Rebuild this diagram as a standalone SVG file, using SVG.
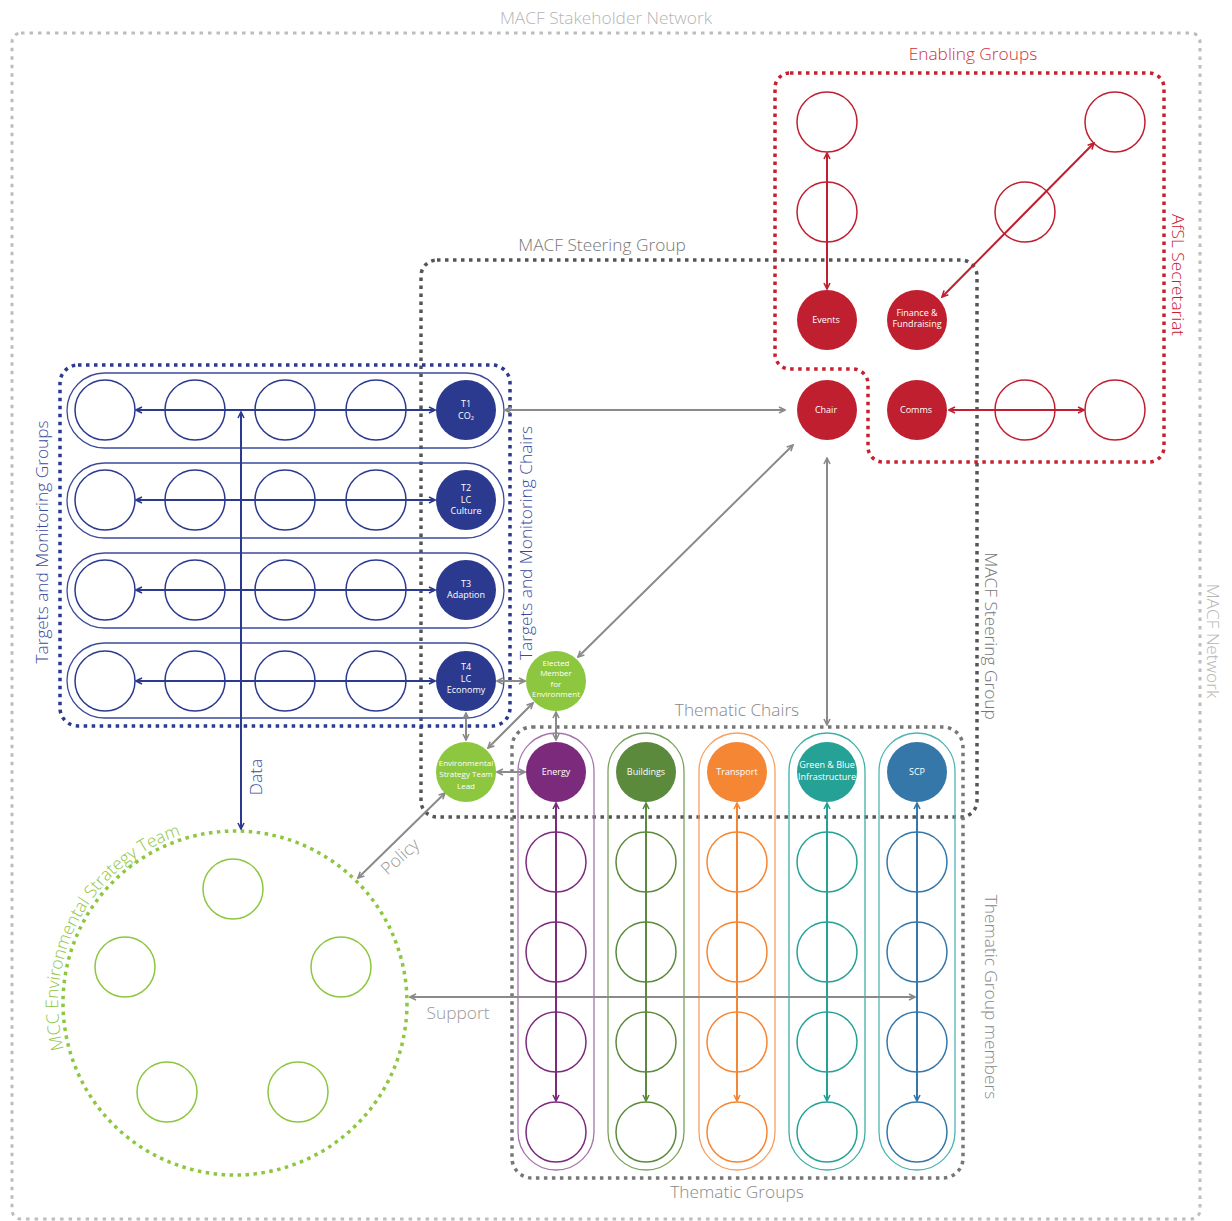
<svg xmlns="http://www.w3.org/2000/svg" width="1232" height="1221" viewBox="0 0 1232 1221">
<style>
text{font-family:"Open Sans","Liberation Sans",sans-serif;}
.lbl{font-size:17.3px;font-weight:300;}
.nt{font-size:9px;fill:#fff;text-anchor:middle;}
.ns{font-size:8px;fill:#fff;text-anchor:middle;}
.dot{fill:none;stroke-width:3.5;stroke-dasharray:3.5 4.5;}
.e{fill:none;stroke-width:1.5;}
.pill{fill:none;stroke-width:1.3;}
.cg{stroke:#8a8a8a;stroke-width:2;fill:none;marker-start:url(#ag);marker-end:url(#ag);}
.cr{stroke:#c01f2f;stroke-width:2;fill:none;marker-start:url(#ar);marker-end:url(#ar);}
.cb{stroke:#2b3a8f;stroke-width:2;fill:none;marker-start:url(#ab);marker-end:url(#ab);}
</style>
<defs>
<marker id="ag" viewBox="0 0 8 8" refX="7" refY="4" markerWidth="8" markerHeight="8" markerUnits="userSpaceOnUse" orient="auto-start-reverse"><path d="M1,1 L7,4 L1,7" fill="none" stroke="#8a8a8a" stroke-width="1.6"/></marker>
<marker id="ar" viewBox="0 0 8 8" refX="7" refY="4" markerWidth="8" markerHeight="8" markerUnits="userSpaceOnUse" orient="auto-start-reverse"><path d="M1,1 L7,4 L1,7" fill="none" stroke="#c01f2f" stroke-width="1.6"/></marker>
<marker id="ab" viewBox="0 0 8 8" refX="7" refY="4" markerWidth="8" markerHeight="8" markerUnits="userSpaceOnUse" orient="auto-start-reverse"><path d="M1,1 L7,4 L1,7" fill="none" stroke="#2b3a8f" stroke-width="1.6"/></marker>
<marker id="ap" viewBox="0 0 8 8" refX="7" refY="4" markerWidth="8" markerHeight="8" markerUnits="userSpaceOnUse" orient="auto-start-reverse"><path d="M1,1 L7,4 L1,7" fill="none" stroke="#7b2a7c" stroke-width="1.6"/></marker>
<marker id="agr" viewBox="0 0 8 8" refX="7" refY="4" markerWidth="8" markerHeight="8" markerUnits="userSpaceOnUse" orient="auto-start-reverse"><path d="M1,1 L7,4 L1,7" fill="none" stroke="#5b8a3c" stroke-width="1.6"/></marker>
<marker id="ao" viewBox="0 0 8 8" refX="7" refY="4" markerWidth="8" markerHeight="8" markerUnits="userSpaceOnUse" orient="auto-start-reverse"><path d="M1,1 L7,4 L1,7" fill="none" stroke="#f58634" stroke-width="1.6"/></marker>
<marker id="at" viewBox="0 0 8 8" refX="7" refY="4" markerWidth="8" markerHeight="8" markerUnits="userSpaceOnUse" orient="auto-start-reverse"><path d="M1,1 L7,4 L1,7" fill="none" stroke="#26a196" stroke-width="1.6"/></marker>
<marker id="as" viewBox="0 0 8 8" refX="7" refY="4" markerWidth="8" markerHeight="8" markerUnits="userSpaceOnUse" orient="auto-start-reverse"><path d="M1,1 L7,4 L1,7" fill="none" stroke="#3577a8" stroke-width="1.6"/></marker>
<path id="mccArc" d="M64,1049 A177,177 0 0 1 214,828"/>
</defs>
<rect width="1232" height="1221" fill="#fff"/>

<!-- containers -->
<g id="containers">
<g id="network">
<rect x="12" y="33" width="1188" height="1186" rx="9" fill="none" stroke="#bdbdbd" stroke-width="3" stroke-dasharray="3.5 5"/>
<text class="lbl" x="606" y="24" text-anchor="middle" fill="#b5b5b5">MACF Stakeholder Network</text>
<text class="lbl" transform="translate(1207,641) rotate(90)" text-anchor="middle" fill="#b5b5b5">MACF Network</text>
</g>
<g id="enabling">
<path class="dot" stroke="#c8202f" d="M790,73 H1149 A15,15 0 0 1 1164,88 V447 A15,15 0 0 1 1149,462 H883 A15,15 0 0 1 868,447 V384 A15,15 0 0 0 853,369 H790 A15,15 0 0 1 775,354 V88 A15,15 0 0 1 790,73 Z"/>
<text class="lbl" x="973" y="60" text-anchor="middle" fill="#d2303d">Enabling Groups</text>
<text class="lbl" transform="translate(1172,275) rotate(90)" text-anchor="middle" fill="#c8202f">AfSL Secretariat</text>
</g>
<g id="steering">
<rect class="dot" stroke="#555" x="421" y="260" width="556" height="557" rx="16"/>
<text class="lbl" x="602" y="251" text-anchor="middle" fill="#777">MACF Steering Group</text>
<text class="lbl" transform="translate(985,636) rotate(90)" text-anchor="middle" fill="#777">MACF Steering Group</text>
</g>
<g id="targets">
<rect class="dot" stroke="#2b3a8f" x="60" y="365" width="450" height="361" rx="18"/>
<text class="lbl" transform="translate(48,542) rotate(-90)" text-anchor="middle" fill="#3b4aa0">Targets and Monitoring Groups</text>
<text class="lbl" transform="translate(532,543) rotate(-90)" text-anchor="middle" fill="#3b4aa0">Targets and Monitoring Chairs</text>
</g>
<g id="thematic">
<rect class="dot" stroke="#777" x="512" y="727" width="451" height="451" rx="20"/>
<text class="lbl" x="737" y="716" text-anchor="middle" fill="#888">Thematic Chairs</text>
<text class="lbl" x="737" y="1198" text-anchor="middle" fill="#888">Thematic Groups</text>
<text class="lbl" transform="translate(985,997) rotate(90)" text-anchor="middle" fill="#888">Thematic Group members</text>
</g>
<g id="mcc">
<circle class="dot" stroke="#8dc63f" cx="235" cy="1003" r="172"/>
<text class="lbl" font-size="18.3" fill="#8dc63f"><textPath href="#mccArc">MCC Environmental Strategy Team</textPath></text>
</g>
</g>

<!-- pills -->
<g id="pills">
<rect class="pill" stroke="#3d4b9e" x="67" y="373" width="437" height="75" rx="37.5"/>
<rect class="pill" stroke="#3d4b9e" x="67" y="463" width="437" height="75" rx="37.5"/>
<rect class="pill" stroke="#3d4b9e" x="67" y="553" width="437" height="75" rx="37.5"/>
<rect class="pill" stroke="#3d4b9e" x="67" y="643" width="437" height="75" rx="37.5"/>
<rect class="pill" stroke="#a673ad" x="518" y="733" width="76" height="437" rx="38"/>
<rect class="pill" stroke="#7aa35a" x="608" y="733" width="76" height="437" rx="38"/>
<rect class="pill" stroke="#f7a060" x="699" y="733" width="76" height="437" rx="38"/>
<rect class="pill" stroke="#3fb0a5" x="789" y="733" width="76" height="437" rx="38"/>
<rect class="pill" stroke="#4fb5b0" x="879" y="733" width="76" height="437" rx="38"/>
</g>

<!-- connectors -->
<g id="connectors">
<line class="cr" x1="827" y1="153" x2="827" y2="289"/>
<line class="cr" x1="942" y1="297" x2="1094" y2="143"/>
<line class="cr" x1="949" y1="410" x2="1084" y2="410"/>
<line class="cb" x1="136" y1="410" x2="435" y2="410"/>
<line class="cb" x1="136" y1="500" x2="435" y2="500"/>
<line class="cb" x1="136" y1="590" x2="435" y2="590"/>
<line class="cb" x1="136" y1="681" x2="435" y2="681"/>
<line class="cb" x1="241" y1="412" x2="241" y2="829"/>
<text class="lbl" transform="translate(262,777) rotate(-90)" text-anchor="middle" fill="#3b4aa0">Data</text>
<line class="cg" x1="505" y1="410" x2="785" y2="410"/>
<line class="cg" x1="578" y1="657" x2="793" y2="445"/>
<line class="cg" x1="827" y1="458" x2="827" y2="725"/>
<line class="cg" x1="497" y1="681" x2="525" y2="681"/>
<line class="cg" x1="466" y1="713" x2="466" y2="740"/>
<line class="cg" x1="533" y1="703" x2="488" y2="748"/>
<line class="cg" x1="556" y1="712" x2="556" y2="740"/>
<line class="cg" x1="497" y1="772" x2="525" y2="772"/>
<line class="cg" x1="358" y1="878" x2="445" y2="793"/>
<text class="lbl" transform="translate(404,861) rotate(-42)" text-anchor="middle" fill="#999">Policy</text>
<line class="cg" x1="410" y1="997" x2="915" y2="997"/>
<text class="lbl" x="458" y="1019" text-anchor="middle" fill="#999">Support</text>
<line stroke="#7b2a7c" stroke-width="2" marker-start="url(#ap)" marker-end="url(#ap)" x1="556" y1="803" x2="556" y2="1101"/>
<line stroke="#5b8a3c" stroke-width="2" marker-start="url(#agr)" marker-end="url(#agr)" x1="646" y1="803" x2="646" y2="1101"/>
<line stroke="#f58634" stroke-width="2" marker-start="url(#ao)" marker-end="url(#ao)" x1="737" y1="803" x2="737" y2="1101"/>
<line stroke="#26a196" stroke-width="2" marker-start="url(#at)" marker-end="url(#at)" x1="827" y1="803" x2="827" y2="1101"/>
<line stroke="#3577a8" stroke-width="2" marker-start="url(#as)" marker-end="url(#as)" x1="917" y1="803" x2="917" y2="1101"/>
</g>

<!-- red nodes -->
<g id="eg-1"><circle class="e" stroke="#c01f2f" cx="827" cy="122" r="30"/></g>
<g id="eg-2"><circle class="e" stroke="#c01f2f" cx="827" cy="212" r="30"/></g>
<g id="eg-3"><circle class="e" stroke="#c01f2f" cx="1025" cy="212" r="30"/></g>
<g id="eg-4"><circle class="e" stroke="#c01f2f" cx="1115" cy="122" r="30"/></g>
<g id="eg-5"><circle class="e" stroke="#c01f2f" cx="1025" cy="410" r="30"/></g>
<g id="eg-6"><circle class="e" stroke="#c01f2f" cx="1115" cy="410" r="30"/></g>
<g id="events"><circle fill="#c01f2f" cx="827" cy="320" r="30"/><text class="nt" x="826" y="323">Events</text></g>
<g id="finance"><circle fill="#c01f2f" cx="917" cy="320" r="30"/><text class="nt" x="917" y="316">Finance &amp;</text><text class="nt" x="917" y="327">Fundraising</text></g>
<g id="chair"><circle fill="#c01f2f" cx="827" cy="410" r="30"/><text class="nt" x="826" y="413">Chair</text></g>
<g id="comms"><circle fill="#c01f2f" cx="917" cy="410" r="30"/><text class="nt" x="916" y="413">Comms</text></g>

<!-- blue rows -->
<g id="t1-members"><circle class="e" stroke="#2b3a8f" cx="105" cy="410" r="30"/><circle class="e" stroke="#2b3a8f" cx="195" cy="410" r="30"/><circle class="e" stroke="#2b3a8f" cx="285" cy="410" r="30"/><circle class="e" stroke="#2b3a8f" cx="376" cy="410" r="30"/></g>
<g id="t2-members"><circle class="e" stroke="#2b3a8f" cx="105" cy="500" r="30"/><circle class="e" stroke="#2b3a8f" cx="195" cy="500" r="30"/><circle class="e" stroke="#2b3a8f" cx="285" cy="500" r="30"/><circle class="e" stroke="#2b3a8f" cx="376" cy="500" r="30"/></g>
<g id="t3-members"><circle class="e" stroke="#2b3a8f" cx="105" cy="590" r="30"/><circle class="e" stroke="#2b3a8f" cx="195" cy="590" r="30"/><circle class="e" stroke="#2b3a8f" cx="285" cy="590" r="30"/><circle class="e" stroke="#2b3a8f" cx="376" cy="590" r="30"/></g>
<g id="t4-members"><circle class="e" stroke="#2b3a8f" cx="105" cy="681" r="30"/><circle class="e" stroke="#2b3a8f" cx="195" cy="681" r="30"/><circle class="e" stroke="#2b3a8f" cx="285" cy="681" r="30"/><circle class="e" stroke="#2b3a8f" cx="376" cy="681" r="30"/></g>
<g id="t1"><circle fill="#2b3a8f" cx="466" cy="410" r="30"/><text class="nt" x="466" y="407">T1</text><text class="nt" x="466" y="419">CO₂</text></g>
<g id="t2"><circle fill="#2b3a8f" cx="466" cy="500" r="30"/><text class="nt" x="466" y="491">T2</text><text class="nt" x="466" y="503">LC</text><text class="nt" x="466" y="514">Culture</text></g>
<g id="t3"><circle fill="#2b3a8f" cx="466" cy="590" r="30"/><text class="nt" x="466" y="587">T3</text><text class="nt" x="466" y="598">Adaption</text></g>
<g id="t4"><circle fill="#2b3a8f" cx="466" cy="681" r="30"/><text class="nt" x="466" y="670">T4</text><text class="nt" x="466" y="682">LC</text><text class="nt" x="466" y="693">Economy</text></g>

<!-- green nodes -->
<g id="elected"><circle fill="#8dc63f" cx="556" cy="681" r="30"/><text class="ns" x="556" y="666">Elected</text><text class="ns" x="556" y="676">Member</text><text class="ns" x="556" y="687">for</text><text class="ns" x="556" y="697">Environment</text></g>
<g id="est-lead"><circle fill="#8dc63f" cx="466" cy="772" r="30"/><text class="ns" x="466" y="766">Environmental</text><text class="ns" x="466" y="777">Strategy Team</text><text class="ns" x="466" y="789">Lead</text></g>
<g id="mcc-members"><circle class="e" stroke="#8dc63f" cx="233" cy="889" r="30"/><circle class="e" stroke="#8dc63f" cx="125" cy="967" r="30"/><circle class="e" stroke="#8dc63f" cx="341" cy="967" r="30"/><circle class="e" stroke="#8dc63f" cx="167" cy="1092" r="30"/><circle class="e" stroke="#8dc63f" cx="298" cy="1092" r="30"/></g>

<!-- thematic columns -->
<g id="energy"><circle fill="#7b2a7c" cx="556" cy="772" r="30"/><text class="nt" x="556" y="775">Energy</text><circle class="e" stroke="#7b2a7c" cx="556" cy="862" r="30"/><circle class="e" stroke="#7b2a7c" cx="556" cy="952" r="30"/><circle class="e" stroke="#7b2a7c" cx="556" cy="1042" r="30"/><circle class="e" stroke="#7b2a7c" cx="556" cy="1132" r="30"/></g>
<g id="buildings"><circle fill="#5b8a3c" cx="646" cy="772" r="30"/><text class="nt" x="646" y="775">Buildings</text><circle class="e" stroke="#5b8a3c" cx="646" cy="862" r="30"/><circle class="e" stroke="#5b8a3c" cx="646" cy="952" r="30"/><circle class="e" stroke="#5b8a3c" cx="646" cy="1042" r="30"/><circle class="e" stroke="#5b8a3c" cx="646" cy="1132" r="30"/></g>
<g id="transport"><circle fill="#f58634" cx="737" cy="772" r="30"/><text class="nt" x="737" y="775">Transport</text><circle class="e" stroke="#f58634" cx="737" cy="862" r="30"/><circle class="e" stroke="#f58634" cx="737" cy="952" r="30"/><circle class="e" stroke="#f58634" cx="737" cy="1042" r="30"/><circle class="e" stroke="#f58634" cx="737" cy="1132" r="30"/></g>
<g id="green-blue"><circle fill="#26a196" cx="827" cy="772" r="30"/><text class="nt" x="827" y="768">Green &amp; Blue</text><text class="nt" x="827" y="780">Infrastructure</text><circle class="e" stroke="#26a196" cx="827" cy="862" r="30"/><circle class="e" stroke="#26a196" cx="827" cy="952" r="30"/><circle class="e" stroke="#26a196" cx="827" cy="1042" r="30"/><circle class="e" stroke="#26a196" cx="827" cy="1132" r="30"/></g>
<g id="scp"><circle fill="#3577a8" cx="917" cy="772" r="30"/><text class="nt" x="917" y="775">SCP</text><circle class="e" stroke="#3577a8" cx="917" cy="862" r="30"/><circle class="e" stroke="#3577a8" cx="917" cy="952" r="30"/><circle class="e" stroke="#3577a8" cx="917" cy="1042" r="30"/><circle class="e" stroke="#3577a8" cx="917" cy="1132" r="30"/></g>
</svg>
